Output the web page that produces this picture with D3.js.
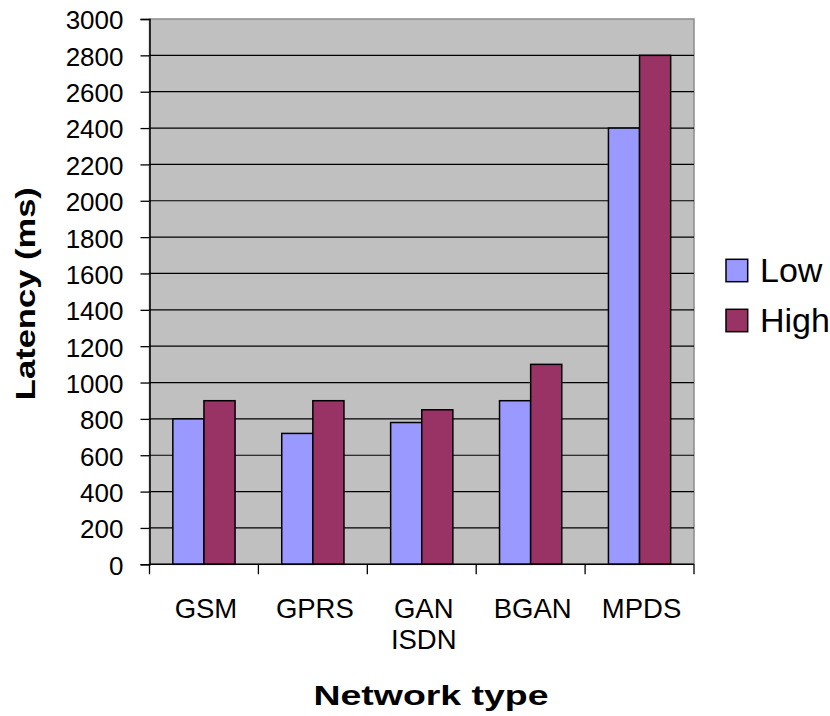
<!DOCTYPE html>
<html><head><meta charset="utf-8">
<script src="https://cdn.jsdelivr.net/npm/d3@7"></script>
<style>body{margin:0;background:#fff}svg{display:block}text{font-family:"Liberation Sans",Arial,sans-serif}</style>
</head><body>
<script>
const categories = ["GSM", "GPRS", "GAN ISDN", "BGAN", "MPDS"];
const seriesNames = ["Low", "High"];
const lowValues = [800, 720, 780, 900, 2400];
const highValues = [900, 900, 850, 1100, 2800];
const yTickValues = [0, 200, 400, 600, 800, 1000, 1200, 1400, 1600, 1800, 2000, 2200, 2400, 2600, 2800, 3000];
const colors = {Low: "#9999FF", High: "#993366"};
const yTitle = "Latency (ms)";
const xTitle = "Network type";

const W = 830, H = 716;
const pL = 149.5, pR = 694, pT = 19, pB = 564.3;

const svg = d3.select("body").append("svg").attr("width", W).attr("height", H);

const x0 = d3.scaleBand().domain(categories).range([pL, pR]).padding(0);
const bw = x0.bandwidth();
const gap = bw * 0.75 / 3.5;
const x1 = d3.scaleBand().domain(seriesNames).range([gap, bw - gap]).padding(0);
const y = d3.scaleLinear().domain([0, 3000]).range([pB, pT]);

// plot background
svg.append("rect").attr("x", pL).attr("y", pT).attr("width", pR - pL).attr("height", pB - pT)
  .attr("fill", "#C0C0C0").attr("stroke", "#8c8c8c").attr("stroke-width", 1.5);

// gridlines
svg.append("g").selectAll("line").data(yTickValues.filter(v => v > 0 && v < 3000)).join("line")
  .attr("x1", pL).attr("x2", pR).attr("y1", d => y(d)).attr("y2", d => y(d))
  .attr("stroke", "#000").attr("stroke-width", 1.2);

// bars
const data = categories.map((c, i) => ({cat: c, vals: [{s: "Low", v: lowValues[i]}, {s: "High", v: highValues[i]}]}));
const groups = svg.append("g").selectAll("g").data(data).join("g")
  .attr("transform", d => `translate(${x0(d.cat)},0)`);
groups.selectAll("rect").data(d => d.vals).join("rect")
  .attr("x", d => x1(d.s)).attr("width", x1.bandwidth())
  .attr("y", d => y(d.v)).attr("height", d => y(0) - y(d.v))
  .attr("fill", d => colors[d.s]).attr("stroke", "#000").attr("stroke-width", 1.5);

// y axis
const yAxis = d3.axisLeft(y).tickValues(yTickValues).tickSize(9).tickPadding(17).tickFormat(d3.format("d"));
const gy = svg.append("g").attr("transform", `translate(${pL},0)`).call(yAxis);
gy.select(".domain").attr("stroke", "#000").attr("stroke-width", 1.5);
gy.selectAll(".tick line").attr("stroke", "#000").attr("stroke-width", 1.3);
gy.selectAll(".tick text").attr("font-size", 26).attr("fill", "#000").attr("dy", "0.38em")
  .style("font-family", "'Liberation Sans', Arial, sans-serif");

// x axis
svg.append("line").attr("x1", pL).attr("x2", pR).attr("y1", pB).attr("y2", pB)
  .attr("stroke", "#000").attr("stroke-width", 1.5);
const boundaries = categories.map(c => x0(c)).concat([x0(categories[categories.length - 1]) + bw]);
svg.append("g").selectAll("line").data(boundaries).join("line")
  .attr("x1", d => d).attr("x2", d => d).attr("y1", pB).attr("y2", pB + 10)
  .attr("stroke", "#000").attr("stroke-width", 1.3);
const xl = svg.append("g").selectAll("text").data(categories).join("text")
  .attr("x", d => x0(d) + bw / 2 + 1).attr("y", 617.5)
  .attr("text-anchor", "middle").attr("font-size", 27.5).attr("fill", "#000");
xl.each(function(d) {
  const parts = d.split(" ");
  const t = d3.select(this);
  parts.forEach((p, i) => t.append("tspan").attr("x", x0(d) + bw / 2 + 2).attr("dy", i === 0 ? 0 : 31.7).text(p));
});

// titles
svg.append("text").attr("transform", `translate(35,${(pT + pB) / 2 + 2}) rotate(-90)`)
  .attr("text-anchor", "middle").attr("font-size", 28).attr("font-weight", "bold")
  .attr("textLength", 213).attr("lengthAdjust", "spacingAndGlyphs").text(yTitle);
svg.append("text").attr("x", 431).attr("y", 705).attr("text-anchor", "middle")
  .attr("font-size", 28).attr("font-weight", "bold")
  .attr("textLength", 235).attr("lengthAdjust", "spacingAndGlyphs").text(xTitle);

// legend
const leg = svg.append("g").selectAll("g").data(seriesNames).join("g")
  .attr("transform", (d, i) => `translate(726,${259.3 + i * 50})`);
leg.append("rect").attr("width", 21.7).attr("height", 22.4)
  .attr("fill", d => colors[d]).attr("stroke", "#000").attr("stroke-width", 1.5);
leg.append("text").attr("x", 34).attr("y", 23).attr("font-size", 34).attr("fill", "#000").text(d => d);
</script>
</body></html>
